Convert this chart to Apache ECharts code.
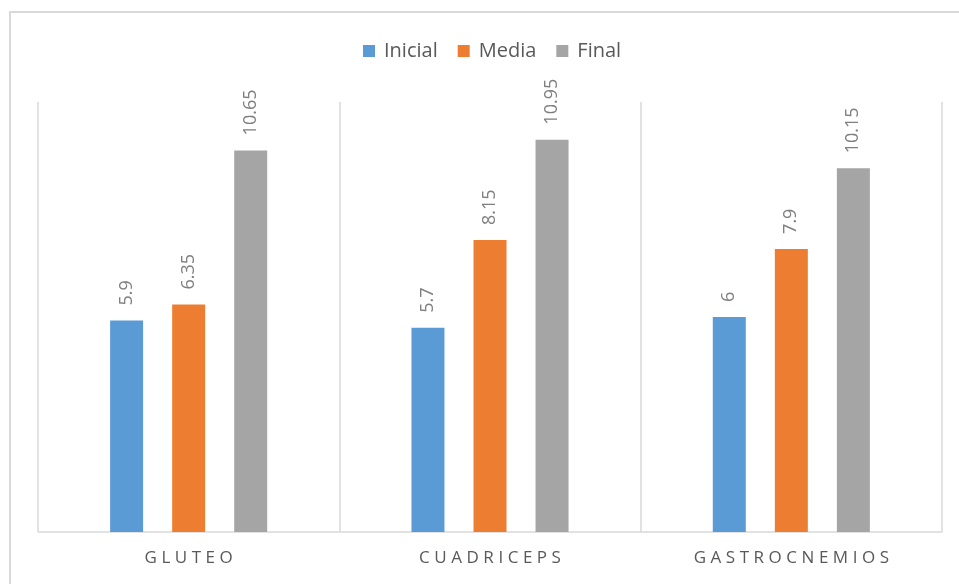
<!DOCTYPE html>
<html>
<head>
<meta charset="utf-8">
<script src="https://cdn.jsdelivr.net/npm/echarts@6/dist/echarts.min.js"></script>
<style>
  html, body { margin: 0; padding: 0; background: #fff; overflow: hidden; }
  #frame { position: absolute; left: 9px; top: 11px; width: 1100px; height: 800px; border: 2px solid #d9d9d9; }
  #chart { position: absolute; left: 0; top: 0; width: 959px; height: 584px; }
</style>
</head>
<body>
<div id="frame"></div>
<div id="chart"></div>
<script>
const categories = ["GLUTEO", "CUADRICEPS", "GASTROCNEMIOS"];
const inicial = [5.9, 5.7, 6];
const media = [6.35, 8.15, 7.9];
const final = [10.65, 10.95, 10.15];
const seriesNames = ["Inicial", "Media", "Final"];
const colors = ["#5b9bd5", "#ed7d31", "#a5a5a5"];

const font = "Open Sans";

const chart = echarts.init(document.getElementById("chart"));

function makeSeries(name, data, color) {
  return {
    name: name,
    type: "bar",
    data: data,
    barWidth: 33,
    barGap: "88%",
    itemStyle: { color: color },
    label: {
      show: true,
      position: "top",
      rotate: 90,
      align: "left",
      verticalAlign: "middle",
      distance: 15,
      color: "#7f7f7f",
      fontSize: 18,
      fontFamily: font,
    },
  };
}

chart.setOption({
  animation: false,
  color: colors,
  legend: {
    top: 36,
    left: 358,
    itemWidth: 12,
    itemHeight: 12,
    itemGap: 20,
    icon: "rect",
    textStyle: { color: "#595959", fontSize: 20, fontFamily: font, padding: [0, 0, 0, 4] },
    data: seriesNames,
  },
  grid: { left: 38, right: 17, top: 102, bottom: 52 },
  xAxis: {
    type: "category",
    data: categories,
    axisLine: { lineStyle: { color: "#d9d9d9", width: 1.5 } },
    axisTick: { show: false },
    splitLine: { show: true, lineStyle: { color: "#d9d9d9", width: 1.5 } },
    axisLabel: {
      color: "#595959",
      fontSize: 17,
      fontFamily: font,
      margin: 18,
      formatter: (v) => v.split("").join("\u2009\u200A"),
    },
  },
  yAxis: {
    type: "value",
    min: 0,
    max: 12,
    show: false,
    splitLine: { show: false },
  },
  series: [
    makeSeries(seriesNames[0], inicial, colors[0]),
    makeSeries(seriesNames[1], media, colors[1]),
    makeSeries(seriesNames[2], final, colors[2]),
  ],
});
</script>
</body>
</html>
